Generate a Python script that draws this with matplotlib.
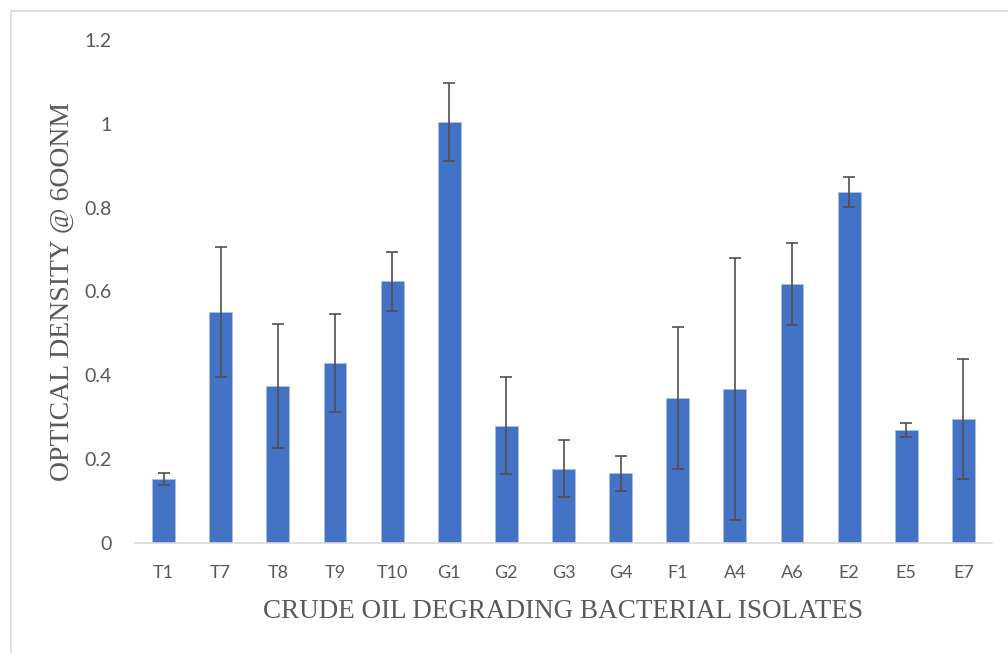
import matplotlib
matplotlib.use('Agg')
import matplotlib.pyplot as plt
import numpy as np

# data
isolates = ['T1', 'T7', 'T8', 'T9', 'T10', 'G1', 'G2', 'G3', 'G4',
            'F1', 'A4', 'A6', 'E2', 'E5', 'E7']
od600 = [0.153, 0.552, 0.375, 0.429, 0.624, 1.004, 0.280, 0.177, 0.166,
         0.346, 0.367, 0.617, 0.837, 0.270, 0.296]
od_err = [0.014, 0.155, 0.148, 0.117, 0.071, 0.093, 0.115, 0.068, 0.042,
          0.169, 0.312, 0.098, 0.036, 0.017, 0.144]
y_ticks = [0, 0.2, 0.4, 0.6, 0.8, 1, 1.2]
y_tick_labels = ['0', '0.2', '0.4', '0.6', '0.8', '1', '1.2']

# style
bar_color = '#4472C4'
text_color = '#595959'
line_color = '#D9D9D9'

fig = plt.figure(figsize=(10.08, 6.53), dpi=100)
ax = fig.add_axes([135 / 1008, 1 - 543 / 653, (992 - 135) / 1008, (543 - 40) / 653])

x = np.arange(len(isolates))
ax.bar(x, od600, width=0.4, color=bar_color, edgecolor='#A9BEE6', linewidth=0.6, zorder=2)
ax.errorbar(x, od600, yerr=od_err, fmt='none', ecolor='#505050',
            elinewidth=1.2, capsize=4.3, capthick=1.2, zorder=3)

ax.set_xlim(-0.5, len(isolates) - 0.5)
ax.set_ylim(0, 1.2)
ax.set_yticks(y_ticks)
ax.set_yticklabels(y_tick_labels)
ax.set_xticks(x)
ax.set_xticklabels(isolates)

for s in ['top', 'right', 'left']:
    ax.spines[s].set_visible(False)
ax.spines['bottom'].set_color(line_color)
ax.spines['bottom'].set_linewidth(1.2)
ax.tick_params(axis='both', length=0, labelcolor=text_color)
ax.tick_params(axis='x', pad=16, labelsize=13)
ax.tick_params(axis='y', pad=16.5, labelsize=14)
for lab in ax.get_xticklabels() + ax.get_yticklabels():
    lab.set_family('Lato')

ax.set_xlabel('CRUDE OIL DEGRADING BACTERIAL ISOLATES', family='Liberation Serif',
              fontsize=19.5, color=text_color, va='center')
ax.set_ylabel('OPTICAL DENSITY @ 6OONM', family='Liberation Serif',
              fontsize=20, color=text_color, va='center')
ax.xaxis.set_label_coords(0.499, (543 - 612) / 503)
ax.yaxis.set_label_coords((62 - 135) / 857, 0.5)

# chart area border (cropped: only top and left visible)
fig.add_artist(plt.Line2D([11 / 1008, 11 / 1008], [0, 1 - 11 / 653],
                          transform=fig.transFigure, color=line_color, lw=1.2))
fig.add_artist(plt.Line2D([11 / 1008, 1], [1 - 11 / 653, 1 - 11 / 653],
                          transform=fig.transFigure, color=line_color, lw=1.2))

fig.savefig('out.png', dpi=100)
